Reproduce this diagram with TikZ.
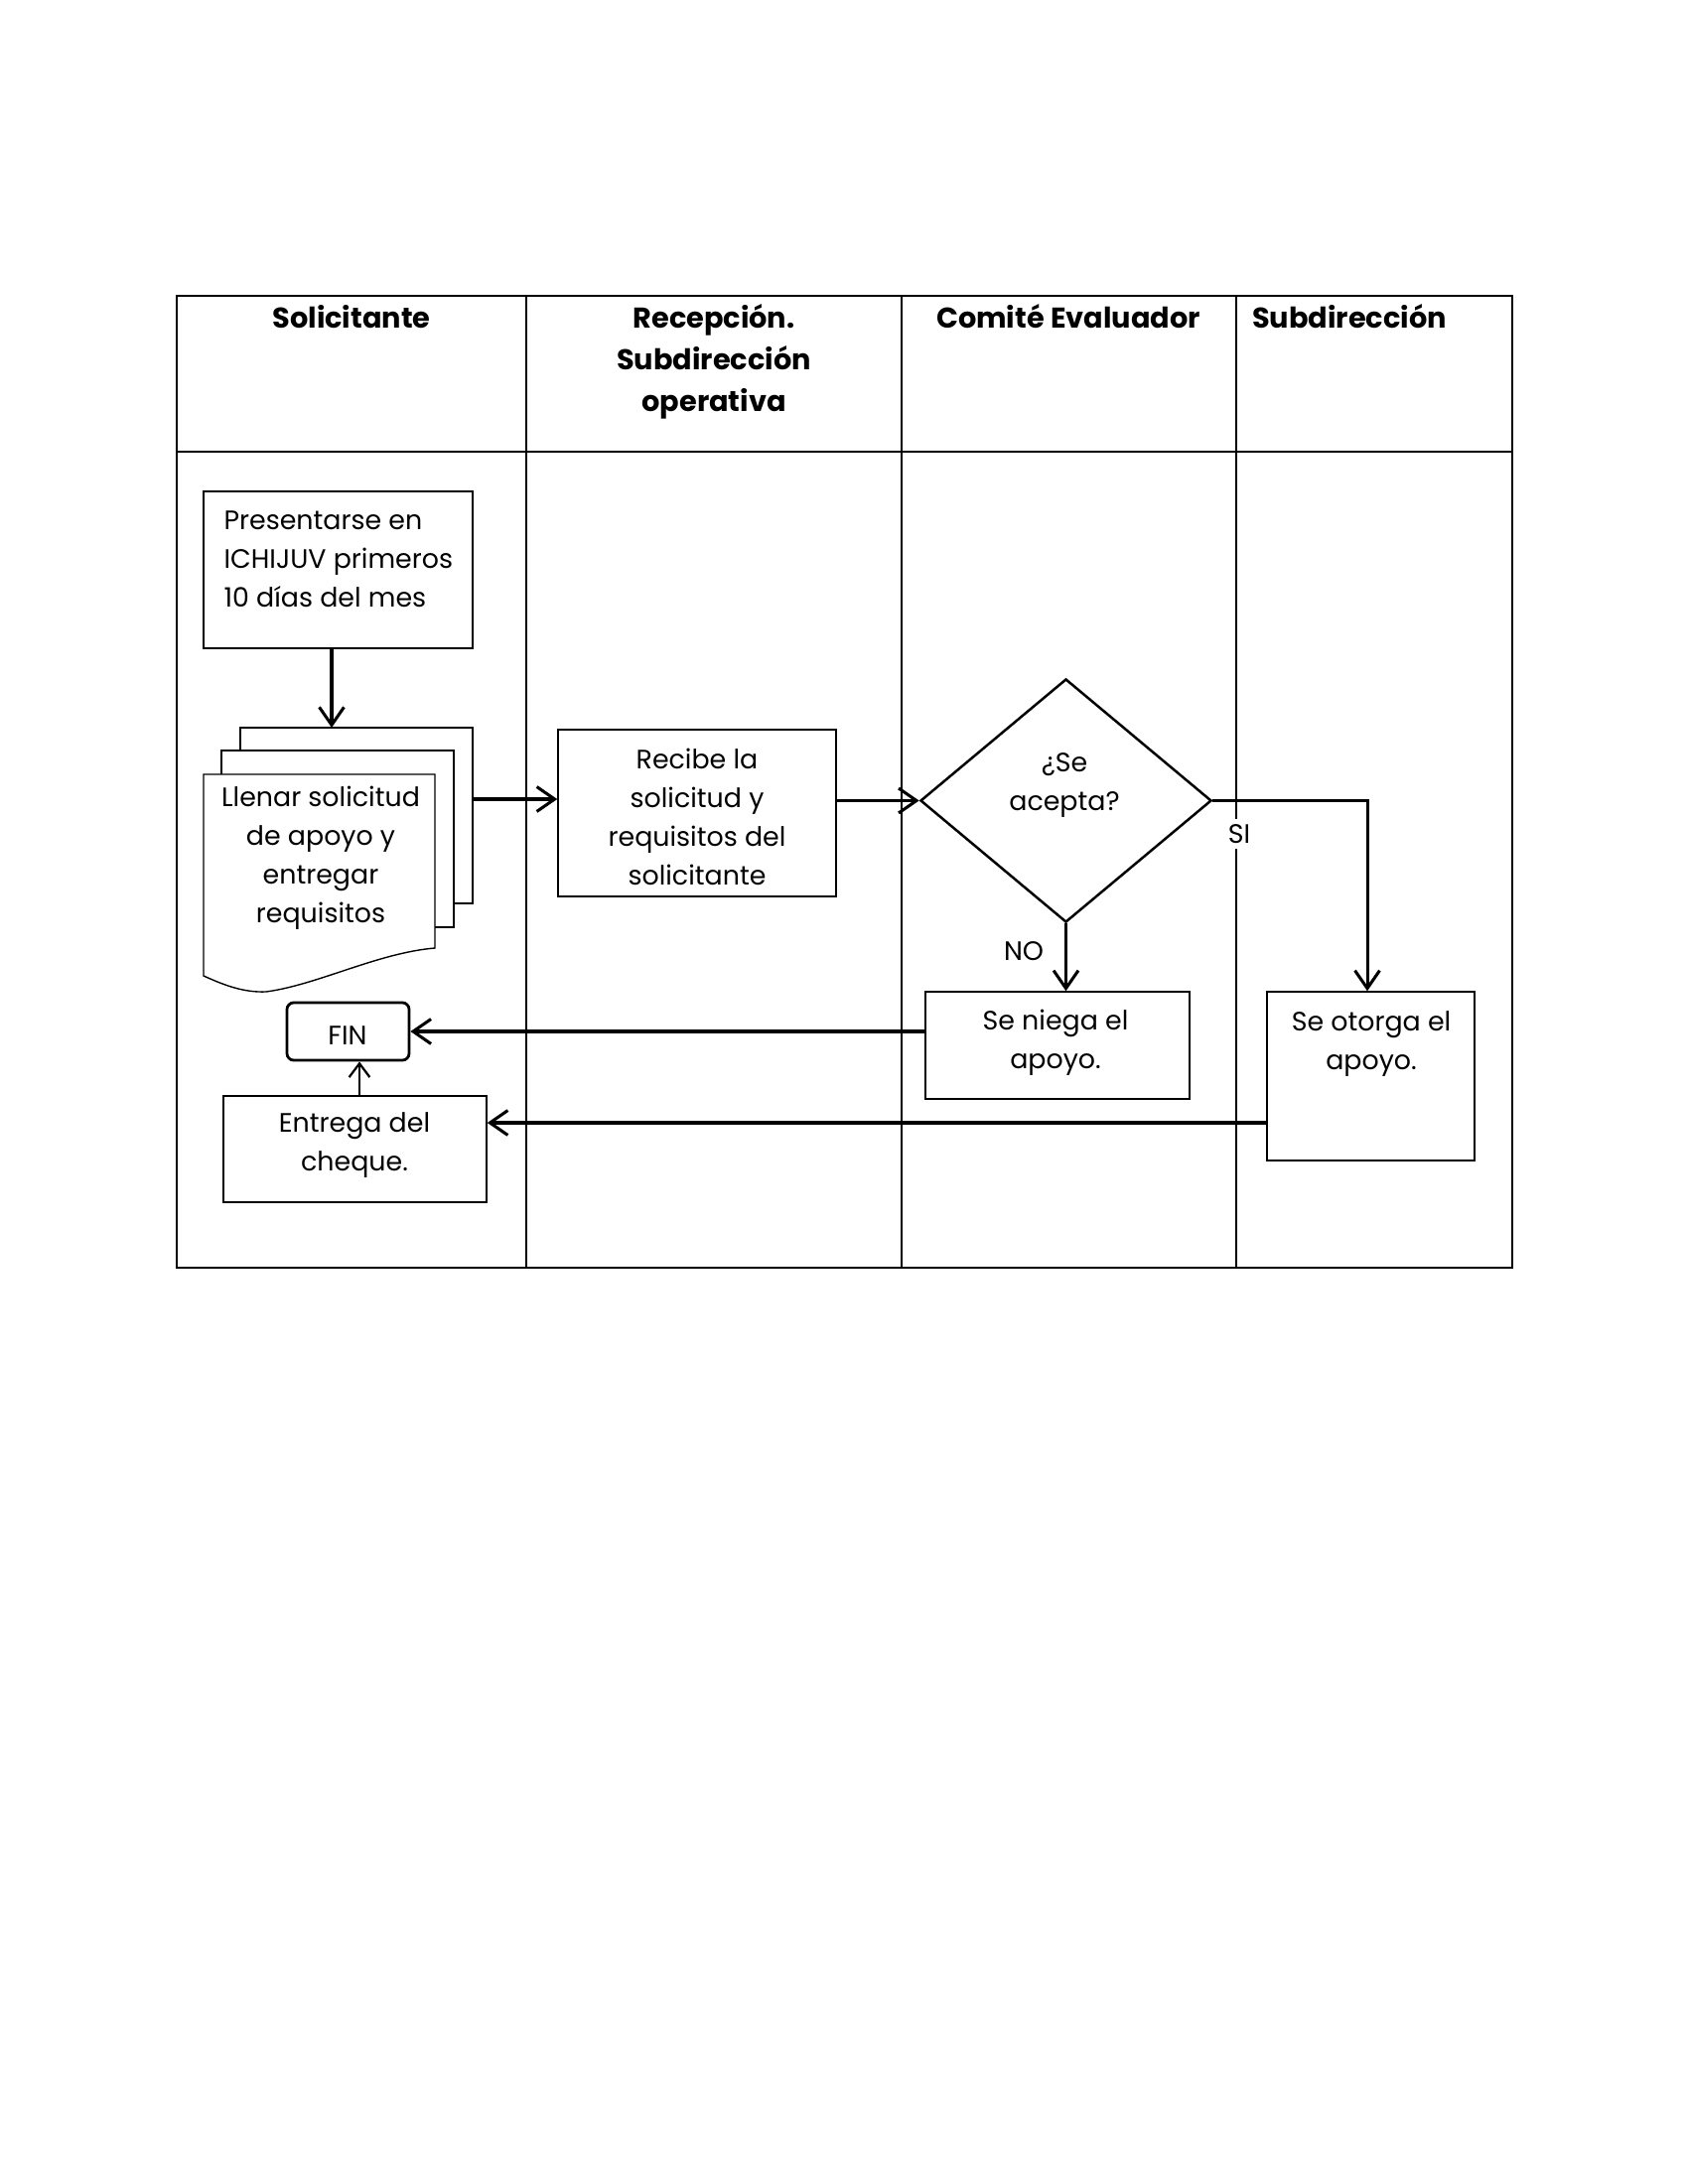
\documentclass[tikz,border=0pt]{standalone}
\usepackage{fontspec}
\setmainfont{Poppins}
\usetikzlibrary{arrows.meta,shapes.geometric,calc}
\tikzset{
  lane/.style={line width=0.8pt},
  box/.style={draw, line width=0.5pt, fill=white, inner sep=0pt},
  txt/.style={font=\fontsize{9.7}{14.1}\selectfont, align=center, inner sep=0pt},
  head/.style={font=\bfseries\fontsize{10.4}{15.2}\selectfont, align=center, inner sep=0pt},
  arr/.style={-{Straight Barb[length=6.5pt,width=9pt]}, line width=1.1pt},
  thinarr/.style={-{Straight Barb[length=5pt,width=7.5pt]}, line width=0.8pt},
}
\begin{document}
\begin{tikzpicture}[x=0.0127cm,y=-0.0127cm]
\useasboundingbox (0,0) rectangle (1700,2200);
% table
\draw[lane] (178,298) rectangle (1523,1277);
\draw[lane] (178,455) -- (1523,455);
\foreach \xx in {530,908,1245} \draw[lane] (\xx,298) -- (\xx,1277);
\node[head] (h1) at (354,319) {Solicitante};
\node[head, anchor=north] (h2) at (719,306) {Recepción.\\Subdirección\\operativa};
\node[head] (h3) at (1076,319) {Comité Evaluador};
\node[head] (h4) at (1359,319) {Subdirección};
% start box
\node[box, minimum width=3.442cm, minimum height=2.007cm] (pres) at (340.5,574) {};
\node[txt, align=left, anchor=north west] (prest) at (225,514) {Presentarse en\\ICHIJUV primeros\\10 días del mes};
% multi document
\draw[box] (242,733) rectangle (476,910);
\draw[box] (223,756) rectangle (457,934);
\draw[box] (205,780) -- (438,780) -- (438,955) .. controls (380,960) and (320,992) .. (268,999) .. controls (245,1000) and (225,992) .. (205,983) -- cycle;
\node[txt] (doct) at (323,864) {Llenar solicitud\\de apoyo y\\entregar\\requisitos};
\coordinate (docTop) at (334,733);
\coordinate (docR) at (476,805);
% other boxes
\node[box, minimum width=3.556cm, minimum height=2.134cm] (rec) at (702,819) {};
\node[txt] (rect) at (702,823) {Recibe la\\solicitud y\\requisitos del\\solicitante};
\node[draw, line width=0.9pt, shape=diamond, minimum width=3.721cm, minimum height=3.112cm, inner sep=0pt] (dec) at (1073.5,806.5) {};
\node[txt] (dect) at (1072,791) {¿Se\\acepta?};
\node[box, minimum width=3.378cm, minimum height=1.372cm] (niega) at (1065,1053) {};
\node[txt] (niegat) at (1063,1050) {Se niega el\\apoyo.};
\node[box, minimum width=2.654cm, minimum height=2.159cm] (otorga) at (1380.5,1084) {};
\node[txt] (otorgat) at (1381,1052) {Se otorga el\\apoyo.};
\node[draw, line width=1pt, rounded corners=2.5pt, minimum width=1.562cm, minimum height=0.737cm, inner sep=0pt, fill=white] (fin) at (350.5,1039) {};
\node[txt] (fint) at (350,1043) {FIN};
\node[box, minimum width=3.366cm, minimum height=1.359cm] (entrega) at (357.5,1157.5) {};
\node[txt] (entregat) at (357,1154) {Entrega del\\cheque.};
% labels
\node[txt, fill=white, inner sep=2pt] (si) at (1248,840) {SI};
\node[txt] (no) at (1031,958) {NO};
% connectors
\coordinate (turn) at (1377,806.5);
\draw[arr] (pres.south -| docTop) -- (docTop);
\draw[arr] (docR) -- (rec.west |- docR);
\draw[arr] (rec.east |- dec.west) -- (dec.west);
\draw[arr] (dec.east) -- (turn) -- (turn |- otorga.north);
\draw[arr] (dec.south) -- (dec.south |- niega.north);
\draw[arr] (niega.west |- fin.east) -- (fin.east);
\draw[thinarr] (entrega.north -| 362,0) -- (fin.south -| 362,0);
\coordinate (oL) at (1276,1131);
\draw[arr] (oL) -- (entrega.east |- oL);
\end{tikzpicture}
\end{document}
